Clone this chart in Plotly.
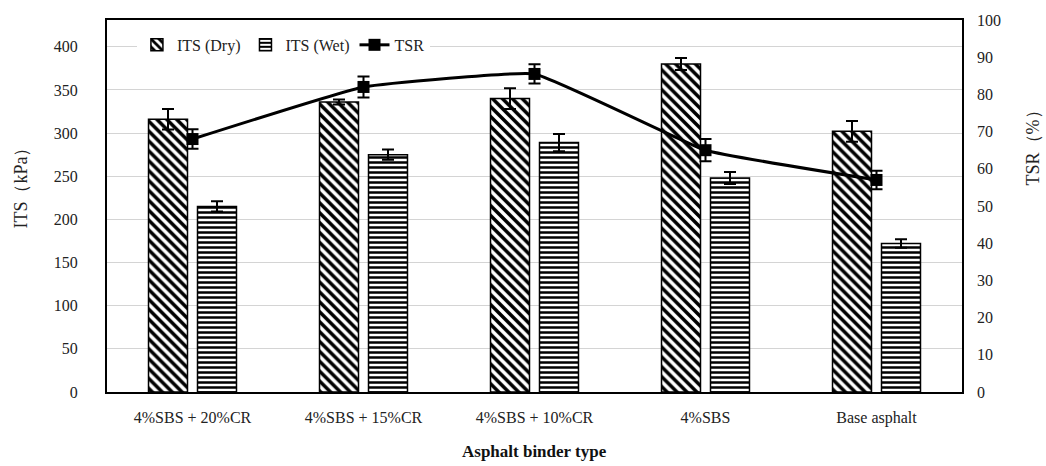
import plotly.graph_objects as go

# Binder types on the category axis
binders = ["4%SBS + 20%CR", "4%SBS + 15%CR", "4%SBS + 10%CR", "4%SBS", "Base asphalt"]

# Indirect tensile strength (kPa) and its scatter
its_dry = [316, 336, 340, 380, 302]
its_dry_err = [12, 3, 12, 7, 12]
its_wet = [215, 275, 289, 248, 172]
its_wet_err = [6, 6, 10, 7, 5]

# Tensile strength ratio (%)
tsr = [68, 82, 85.5, 65, 57]
tsr_err = [2.6, 2.8, 2.6, 3, 2.5]

left_ticks = list(range(0, 401, 50))
right_ticks = list(range(0, 101, 10))

serif = "Liberation Serif"
ink = "#222222"

fig = go.Figure()

fig.add_trace(go.Bar(
    x=binders, y=its_dry, name="ITS (Dry)",
    marker=dict(color="white", line=dict(color="black", width=1.5),
                pattern=dict(shape="\\", fgcolor="black", bgcolor="white",
                             size=7, solidity=0.5, fgopacity=1)),
    error_y=dict(type="data", array=its_dry_err, color="black",
                 thickness=2, width=6),
))
fig.add_trace(go.Bar(
    x=binders, y=its_wet, name="ITS (Wet)",
    marker=dict(color="white", line=dict(color="black", width=1.5),
                pattern=dict(shape="-", fgcolor="black", bgcolor="white",
                             size=5, solidity=0.5, fgopacity=1)),
    error_y=dict(type="data", array=its_wet_err, color="black",
                 thickness=2, width=6),
))
fig.add_trace(go.Scatter(
    x=binders, y=tsr, name="TSR", yaxis="y2",
    mode="lines+markers",
    line=dict(color="black", width=3, shape="spline", smoothing=0.3),
    marker=dict(symbol="square", size=12, color="black"),
    error_y=dict(type="data", array=tsr_err, color="black",
                 thickness=2, width=6),
))

fig.update_layout(
    width=1046, height=466,
    margin=dict(l=107, r=84, t=18, b=74),
    paper_bgcolor="white", plot_bgcolor="white",
    font=dict(family=serif, size=16, color=ink),
    barmode="group", bargap=0.427, bargroupgap=0.204,
    showlegend=True,
    legend=dict(orientation="h", x=0.035, y=0.933, xanchor="left",
                yanchor="middle", bgcolor="white",
                font=dict(family=serif, size=16, color=ink),
                itemwidth=30, tracegroupgap=0),
    xaxis=dict(showgrid=False, showline=True, linecolor="black", linewidth=2,
               mirror=True, ticks="", tickfont=dict(family=serif, size=16),
               ticklabelstandoff=10),
    yaxis=dict(range=[0, 431], tickvals=left_ticks, showgrid=True,
               gridcolor="#d4d4d4", gridwidth=1, zeroline=False,
               showline=True, linecolor="black", linewidth=2, mirror=True,
               ticks="", ticklabelstandoff=24,
               tickfont=dict(family=serif, size=16)),
    yaxis2=dict(range=[0, 100], tickvals=right_ticks, overlaying="y",
                side="right", showgrid=False, zeroline=False,
                showline=False, ticks="", ticklabelstandoff=14,
                tickfont=dict(family=serif, size=16)),
    annotations=[
        dict(text="ITS（kPa）", xref="paper", yref="paper", x=-0.1,
             xanchor="center", y=0.559, yanchor="middle", textangle=-90,
             showarrow=False, font=dict(family=serif, size=18, color=ink)),
        dict(text="TSR（%）", xref="paper", yref="paper", x=1.083,
             xanchor="center", y=0.668, yanchor="middle", textangle=-90,
             showarrow=False, font=dict(family=serif, size=18, color=ink)),
        dict(text="<b>Asphalt binder type</b>", xref="paper", yref="paper",
             x=0.5, y=-0.16, yanchor="middle", showarrow=False,
             font=dict(family=serif, size=17, color="#111111")),
    ],
)

fig.write_html("out.html")
